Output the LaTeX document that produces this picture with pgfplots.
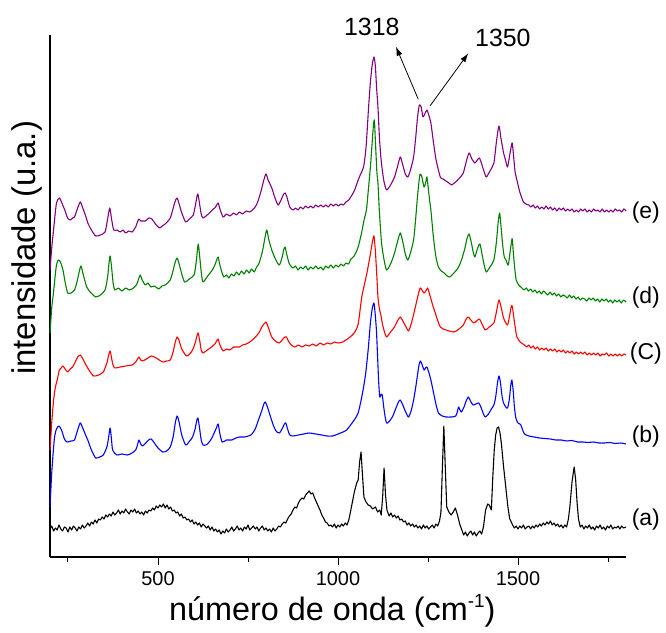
\documentclass[border=0pt]{standalone}
\usepackage{fontspec}
\setmainfont{Liberation Sans}
\usepackage{pgfplots}
\pgfplotsset{compat=1.18}
\usetikzlibrary{arrows.meta}

\definecolor{specA}{RGB}{0,0,0}
\definecolor{specB}{RGB}{0,0,255}
\definecolor{specC}{RGB}{255,0,0}
\definecolor{specD}{RGB}{0,128,0}
\definecolor{specE}{RGB}{128,0,128}

\begin{document}
\begin{tikzpicture}
\useasboundingbox (-50bp,-76bp) rectangle (616bp,557bp);
\begin{axis}[
  scale only axis, width=576bp, height=522bp,
  xmin=200, xmax=1800, ymin=0, ymax=522,
  axis x line*=bottom, axis y line*=left,
  axis line style={line width=1.2bp, black},
  xtick={500,1000,1500}, minor xtick={250,750,1250,1750},
  ytick=\empty, minor ytick={0,15,...,510},
  tick align=outside,
  major tick length=8bp, minor tick length=5bp,
  tick style={black, line width=1bp},
  clip=false,
  /pgf/number format/assume math mode=true,
  /pgf/number format/1000 sep={},
  xticklabel style={font=\fontsize{20}{23}\selectfont, anchor=center, yshift=-14bp},
  xlabel={número de onda (cm\raisebox{0.75ex}{\fontsize{19}{21}\selectfont -1})},
  xlabel style={at={(axis description cs:0.490,-0.1034)}, anchor=center, font=\fontsize{32.5}{38}\selectfont},
  ylabel={intensidade (u.a.)},
  ylabel style={at={(axis description cs:-0.040,0.592)}, anchor=center, font=\fontsize{33}{39}\selectfont},
  every axis plot/.append style={line join=round},
]

% (a)
\addplot[specA, line width=1.1bp] coordinates {
(200,28)(205,31)(210,26)(215,29)(220,27)(225,32)(230,28)(235,26)(240,30)(245,29)(250,25)(255,30)(260,27)(265,31)(270,29)(275,26)(280,30)(285,28)(290,32)(295,29)(300,31)(305,34)(310,31)(315,35)(320,33)(325,37)(330,34)(335,38)(340,37)(345,40)(350,38)(355,42)(360,40)(365,43)(370,41)(375,45)(380,42)(385,44)(390,47)(395,43)(400,46)(405,44)(410,48)(415,45)(420,43)(425,47)(430,45)(435,48)(440,44)(445,46)(450,43)(455,45)(460,42)(465,46)(470,44)(475,47)(480,46)(485,49)(490,47)(495,51)(500,49)(505,52)(510,50)(515,53)(520,49)(525,52)(530,48)(535,50)(540,46)(545,47)(550,44)(555,45)(560,41)(565,43)(570,39)(575,40)(580,37)(585,38)(590,35)(595,37)(600,33)(605,35)(610,32)(615,34)(620,30)(625,33)(630,31)(635,29)(640,31)(645,27)(650,30)(655,26)(660,28)(665,25)(670,27)(675,23)(680,26)(685,24)(690,28)(695,25)(700,27)(705,30)(710,26)(715,28)(720,31)(725,27)(730,29)(735,26)(740,30)(745,28)(750,32)(755,27)(760,29)(765,31)(770,28)(775,30)(780,26)(785,29)(790,31)(795,27)(800,29)(805,26)(810,28)(815,25)(820,29)(825,26)(830,28)(835,31)(840,30)(845,33)(850,35)(855,34)(860,38)(865,41)(870,43)(875,47)(880,50)(885,49)(890,54)(895,57)(900,59)(905,58)(910,62)(915,64)(920,66)(925,63)(930,64)(935,59)(940,55)(945,51)(950,47)(955,42)(960,39)(965,35)(970,34)(975,31)(980,32)(985,30)(990,33)(995,29)(1000,32)(1005,30)(1010,33)(1015,31)(1020,34)(1025,32)(1030,37)(1034,44)(1040,55)(1046,66)(1052,74)(1056,77)(1060,95)(1064,105)(1068,82)(1072,60)(1078,55)(1084,52)(1090,51)(1096,48)(1104,50)(1110,45)(1116,47)(1120,42)(1124,60)(1128,89)(1132,62)(1136,47)(1142,41)(1147,44)(1152,40)(1157,42)(1162,39)(1167,41)(1172,37)(1177,38)(1182,35)(1187,36)(1192,32)(1197,34)(1202,31)(1207,33)(1212,30)(1217,32)(1222,29)(1227,31)(1232,28)(1237,32)(1242,29)(1247,31)(1252,28)(1257,30)(1262,32)(1267,29)(1272,33)(1277,31)(1282,36)(1286,45)(1290,90)(1294,131)(1298,90)(1302,50)(1308,45)(1314,42)(1320,45)(1326,49)(1332,42)(1338,33)(1344,27)(1349,22)(1354,25)(1359,21)(1364,24)(1369,26)(1374,22)(1379,25)(1384,21)(1389,24)(1394,26)(1399,23)(1404,30)(1410,47)(1416,53)(1420,52)(1426,47)(1430,80)(1434,107)(1438,122)(1442,129)(1446,130)(1450,124)(1454,113)(1460,90)(1466,70)(1472,50)(1477,38)(1480,36)(1485,32)(1490,29)(1495,31)(1500,28)(1505,31)(1510,29)(1515,32)(1520,28)(1525,30)(1530,31)(1535,28)(1540,31)(1545,29)(1550,32)(1555,30)(1560,33)(1565,31)(1570,34)(1575,32)(1580,35)(1585,33)(1590,36)(1595,32)(1600,34)(1605,31)(1610,33)(1615,30)(1620,32)(1625,29)(1630,32)(1635,30)(1640,38)(1644,50)(1650,75)(1656,90)(1660,78)(1664,55)(1668,38)(1673,30)(1678,32)(1683,28)(1688,31)(1693,29)(1698,32)(1703,28)(1708,30)(1713,27)(1718,31)(1723,29)(1728,32)(1733,28)(1738,30)(1743,27)(1748,31)(1753,29)(1758,32)(1763,28)(1768,30)(1773,29)(1778,31)(1783,28)(1788,31)(1793,29)(1800,30)
};

% (b)
\addplot[specB, line width=1.1bp, smooth, tension=0.4] coordinates {
(200,50)(205,85)(212,118)(218,128)(225,131)(232,127)(240,118)(247,115)(258,116)(268,117)(276,126)(284,134)(292,128)(300,121)(305,117)(315,107)(327,99)(338,100)(348,102)(358,110)(363,120)(367,129)(371,117)(374,107)(385,102)(400,103)(415,102)(428,104)(438,107)(443,112)(447,117)(452,113)(457,111)(466,114)(474,117)(481,118)(490,114)(500,109)(513,105)(524,106)(534,110)(542,120)(548,134)(553,141)(558,136)(566,122)(577,112)(588,116)(596,120)(603,128)(608,137)(611,139)(615,130)(620,117)(625,112)(633,112)(640,114)(648,118)(656,124)(661,128)(667,133)(671,125)(678,115)(690,117)(705,117)(716,119)(726,120)(740,120)(758,122)(770,128)(779,137)(788,146)(794,153)(798,155)(804,150)(811,142)(820,132)(828,126)(837,124)(846,129)(851,133)(855,134)(860,128)(866,122)(875,121)(890,122)(905,123)(920,124)(938,123)(955,122)(970,121)(985,121)(1000,123)(1014,125)(1024,127)(1035,132)(1045,137)(1056,144)(1066,160)(1072,172)(1077,184)(1084,208)(1090,234)(1095,248)(1100,254)(1104,240)(1107,225)(1110,200)(1113,175)(1116,160)(1120,163)(1123,162)(1127,150)(1131,140)(1135,134)(1141,135)(1151,140)(1160,148)(1168,155)(1173,157)(1180,152)(1188,145)(1196,140)(1203,146)(1210,157)(1216,170)(1220,180)(1225,192)(1229,196)(1234,192)(1239,187)(1243,189)(1247,190)(1252,185)(1258,177)(1265,165)(1272,153)(1279,144)(1290,141)(1300,140)(1315,140)(1327,141)(1332,146)(1335,150)(1339,147)(1343,145)(1350,150)(1356,156)(1362,160)(1368,156)(1375,152)(1383,153)(1391,154)(1398,149)(1404,143)(1409,140)(1418,143)(1426,148)(1433,152)(1438,160)(1443,174)(1447,181)(1451,175)(1456,160)(1460,154)(1466,150)(1471,149)(1476,158)(1480,172)(1483,177)(1487,165)(1490,150)(1494,139)(1500,134)(1505,133)(1508,132)(1513,127)(1518,123)(1530,121)(1545,120)(1560,119)(1575,118.5)(1590,118)(1605,117)(1620,117)(1635,116)(1650,116.5)(1665,115)(1680,115)(1695,114.5)(1710,115)(1725,114)(1740,114)(1755,114.5)(1770,113.5)(1785,114)(1800,113)
};

% (C)
\addplot[specC, line width=1.1bp, smooth, tension=0.4] coordinates {
(200,107)(205,135)(210,157)(215,170)(220,177)(226,187)(231,189)(236,191)(242,188)(249,185)(256,188)(263,190)(270,195)(277,200)(284,202)(290,199)(300,192)(310,186)(321,181)(335,182)(348,185)(358,194)(363,202)(367,206)(371,199)(375,192)(380,189)(395,190)(410,191)(428,192)(438,195)(443,198)(447,200)(452,197)(457,196)(468,198)(481,201)(495,199)(513,195)(524,196)(534,197)(542,205)(548,215)(553,220)(558,217)(566,208)(579,201)(588,203)(596,207)(604,215)(611,224)(616,216)(620,207)(625,204)(637,207)(649,210)(658,213)(663,216)(667,218)(672,212)(681,206)(690,208)(700,207)(710,210)(726,210)(735,212)(745,213)(755,215)(768,219)(780,224)(790,231)(800,235)(806,230)(816,220)(826,216)(837,214)(847,218)(852,220)(857,220)(862,216)(870,212)(880,210)(890,212)(900,210)(910,212)(920,211)(930,213)(940,211)(950,214)(960,212)(970,214)(980,213)(990,215)(1000,214)(1013,215)(1030,219)(1045,224)(1056,233)(1066,260)(1075,275)(1082,287)(1090,303)(1096,316)(1100,321)(1104,305)(1108,280)(1111,260)(1115,248)(1119,242)(1124,232)(1130,224)(1135,220)(1146,225)(1157,230)(1165,236)(1173,240)(1180,236)(1189,230)(1196,226)(1204,234)(1213,247)(1220,258)(1228,269)(1233,267)(1239,264)(1244,266)(1249,269)(1255,262)(1263,252)(1272,242)(1284,230)(1300,227)(1322,225)(1336,228)(1348,232)(1356,238)(1362,240)(1369,237)(1377,234)(1385,236)(1393,238)(1400,233)(1409,227)(1420,230)(1433,234)(1440,245)(1447,257)(1453,250)(1459,240)(1462,237)(1471,232)(1477,242)(1481,250)(1484,251)(1489,238)(1493,228)(1497,220)(1506,215)(1518,212)(1524,210)(1530,212)(1536,209)(1542,211)(1548,208)(1554,210)(1560,207)(1566,209)(1572,207)(1578,209)(1584,206)(1590,208)(1596,206)(1602,208)(1608,205)(1614,207)(1620,205)(1626,207)(1632,204)(1638,206)(1644,204)(1650,206)(1656,203)(1662,205)(1668,203)(1674,205)(1680,203)(1686,205)(1692,202)(1698,204)(1704,202)(1710,204)(1716,202)(1722,204)(1728,201)(1734,203)(1740,202)(1746,204)(1752,201)(1758,203)(1764,201)(1770,203)(1776,201)(1782,203)(1788,201)(1794,203)(1800,202)
};

% (d)
\addplot[specD, line width=1.1bp, smooth, tension=0.4] coordinates {
(200,224)(205,250)(209,262)(214,280)(218,292)(223,297)(229,295)(236,287)(242,275)(249,264)(258,264)(268,267)(275,275)(281,285)(286,291)(292,283)(302,270)(314,264)(327,260)(340,262)(353,267)(360,280)(364,294)(367,301)(371,290)(375,275)(380,267)(390,269)(400,266)(410,269)(420,267)(428,268)(440,272)(447,279)(451,282)(456,277)(465,272)(472,274)(480,270)(490,271)(502,268)(511,271)(520,272)(534,277)(543,288)(548,295)(553,299)(558,294)(566,283)(574,275)(587,278)(600,282)(605,292)(609,305)(612,313)(616,300)(620,285)(625,275)(638,281)(651,287)(658,292)(663,297)(667,300)(672,292)(678,284)(683,280)(690,282)(697,279)(704,283)(711,281)(718,285)(725,282)(732,286)(739,283)(746,287)(753,284)(760,288)(767,285)(774,290)(780,293)(789,304)(795,315)(802,327)(808,317)(816,307)(826,298)(837,292)(845,300)(849,307)(853,310)(858,302)(865,293)(875,289)(882,291)(889,287)(896,290)(903,288)(910,291)(917,287)(924,290)(931,288)(938,291)(945,288)(952,290)(959,287)(966,291)(973,289)(980,292)(987,289)(994,292)(1001,290)(1008,293)(1015,291)(1022,294)(1029,293)(1036,298)(1045,301)(1056,310)(1066,325)(1073,338)(1079,347)(1085,370)(1090,390)(1095,415)(1098,430)(1101,437)(1104,415)(1108,385)(1111,374)(1115,345)(1121,314)(1128,297)(1135,287)(1146,293)(1157,304)(1165,315)(1173,324)(1180,315)(1187,303)(1194,297)(1202,305)(1210,317)(1215,335)(1220,357)(1224,372)(1228,383)(1233,380)(1239,370)(1244,375)(1247,380)(1251,368)(1255,355)(1258,347)(1265,320)(1272,300)(1279,290)(1287,286)(1295,284)(1303,281)(1311,280)(1319,283)(1327,286)(1335,290)(1343,297)(1352,308)(1358,318)(1364,323)(1370,315)(1375,306)(1380,300)(1387,308)(1394,313)(1400,303)(1406,292)(1412,285)(1422,290)(1433,297)(1440,315)(1445,335)(1449,344)(1453,330)(1458,310)(1462,300)(1468,296)(1473,292)(1478,305)(1482,315)(1484,318)(1488,300)(1492,285)(1495,277)(1502,272)(1511,269)(1517,267)(1523,269)(1529,266)(1535,268)(1541,265)(1547,267)(1553,264)(1559,266)(1565,263)(1571,266)(1577,264)(1583,262)(1589,265)(1595,262)(1601,264)(1607,261)(1613,263)(1619,260)(1625,262)(1631,261)(1637,259)(1643,262)(1649,259)(1655,261)(1661,258)(1667,260)(1673,257)(1679,259)(1685,258)(1691,256)(1697,259)(1703,257)(1709,259)(1715,256)(1721,258)(1727,255)(1733,258)(1739,256)(1745,258)(1751,255)(1757,257)(1763,254)(1769,257)(1775,255)(1781,257)(1787,254)(1793,257)(1800,255)
};

% (e)
\addplot[specE, line width=1.1bp, smooth, tension=0.4] coordinates {
(200,287)(205,310)(209,324)(214,342)(218,354)(223,358)(227,359)(233,354)(241,347)(249,339)(257,337)(263,339)(268,340)(276,348)(284,355)(290,350)(300,340)(305,334)(315,327)(327,321)(340,322)(353,325)(360,338)(366,349)(371,338)(377,327)(386,327)(395,325)(403,327)(410,324)(419,326)(428,325)(438,330)(443,335)(447,338)(452,336)(460,336)(465,336)(475,339)(483,338)(493,333)(504,329)(512,331)(520,333)(534,339)(543,350)(548,356)(553,359)(558,354)(566,344)(577,335)(587,338)(598,342)(604,352)(608,360)(611,363)(616,352)(620,343)(625,339)(640,343)(651,347)(660,350)(667,354)(672,348)(681,340)(690,343)(700,341)(710,344)(718,342)(726,345)(735,343)(745,346)(755,345)(768,349)(777,355)(787,367)(794,377)(800,383)(806,377)(816,369)(826,358)(834,352)(843,358)(849,363)(853,364)(858,360)(866,350)(875,347)(882,349)(889,347)(896,350)(903,348)(910,351)(917,349)(924,351)(931,349)(938,352)(945,350)(952,352)(959,350)(966,352)(973,350)(980,353)(987,351)(994,353)(1001,351)(1008,353)(1015,352)(1022,355)(1030,357)(1045,366)(1056,377)(1063,383)(1071,390)(1078,410)(1085,450)(1090,475)(1095,492)(1100,500)(1104,490)(1107,470)(1111,450)(1115,420)(1119,400)(1123,387)(1128,375)(1135,367)(1146,372)(1157,380)(1165,390)(1173,400)(1180,392)(1187,383)(1194,380)(1202,388)(1210,400)(1216,420)(1221,440)(1226,452)(1231,450)(1236,440)(1241,443)(1247,447)(1252,442)(1258,434)(1265,415)(1272,398)(1284,380)(1292,378)(1300,376)(1308,374)(1316,372)(1323,374)(1330,376)(1340,380)(1348,384)(1356,395)(1364,404)(1372,398)(1380,394)(1387,397)(1393,399)(1400,392)(1406,385)(1412,380)(1422,386)(1433,394)(1440,415)(1447,431)(1453,418)(1460,404)(1466,396)(1471,390)(1477,402)(1481,410)(1484,414)(1488,400)(1492,385)(1497,377)(1505,365)(1515,355)(1522,353)(1530,352)(1536,350)(1542,352)(1548,349)(1554,351)(1560,348)(1566,350)(1572,348)(1578,351)(1584,348)(1590,350)(1596,347)(1602,349)(1608,346)(1614,349)(1620,347)(1626,349)(1632,346)(1638,348)(1644,346)(1650,348)(1656,345)(1662,347)(1668,345)(1674,348)(1680,346)(1686,348)(1692,345)(1698,347)(1704,345)(1710,348)(1716,346)(1722,347)(1728,345)(1734,348)(1740,345)(1746,347)(1752,345)(1758,347)(1764,345)(1770,348)(1776,346)(1782,347)(1788,345)(1794,348)(1800,346)
};

% spectrum labels
\begin{scope}[font=\fontsize{23}{27}\selectfont]
\node at (axis cs:1855,344) {(e)};
\node at (axis cs:1855,259) {(d)};
\node at (axis cs:1855,203) {(C)};
\node at (axis cs:1855,120) {(b)};
\node at (axis cs:1855,37) {(a)};
\end{scope}

% band assignments
\draw[line width=0.8bp, -{Latex[length=9bp,width=6bp]}] (axis cs:1223,457.7) -- (axis cs:1161,510.3);
\draw[line width=0.8bp, -{Latex[length=9bp,width=6bp]}] (axis cs:1256,451.3) -- (axis cs:1362,503.7);
\node[font=\fontsize{25}{30}\selectfont] at (axis cs:1094,530) {1318};
\node[font=\fontsize{25}{30}\selectfont] at (axis cs:1458,519) {1350};
\end{axis}
\end{tikzpicture}
\end{document}
